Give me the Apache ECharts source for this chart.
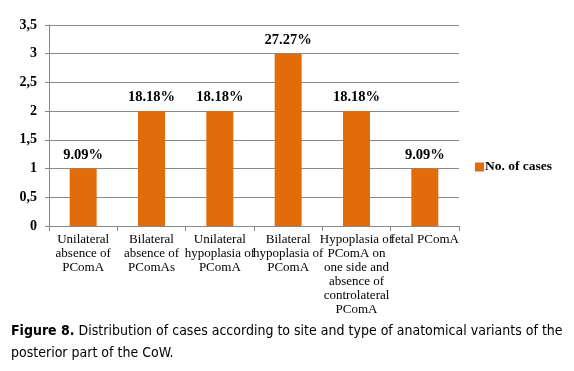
<!DOCTYPE html>
<html>
<head>
<meta charset="utf-8">
<script src="https://cdn.jsdelivr.net/npm/echarts@6/dist/echarts.min.js"></script>
<style>html,body{margin:0;padding:0;background:#fff;}#c{width:574px;height:371px;}</style>
</head>
<body>
<div id="c"></div>
<script>
var categories = [
  "Unilateral\nabsence of\nPComA",
  "Bilateral\nabsence of\nPComAs",
  "Unilateral\nhypoplasia of\nPComA",
  "Bilateral\nhypoplasia of\nPComA",
  "Hypoplasia of\nPComA on\none side and\nabsence of\ncontrolateral\nPComA",
  "fetal PComA"
];
var cases = [1, 2, 2, 3, 2, 1];
var percentLabels = ["9.09%", "18.18%", "18.18%", "27.27%", "18.18%", "9.09%"];
var yTicks = [0, 0.5, 1, 1.5, 2, 2.5, 3, 3.5];
var seriesName = "No. of cases";

var chart = echarts.init(document.getElementById('c'));
chart.setOption({
  animation: false,
  backgroundColor: '#fff',
  grid: { left: 49, top: 25, right: 115, bottom: 145, containLabel: false },
  legend: {
    data: [seriesName],
    orient: 'vertical',
    left: 470, top: 155,
    itemWidth: 9, itemHeight: 9, itemGap: 2,
    icon: 'rect',
    textStyle: { fontFamily: 'Liberation Serif', fontWeight: 'bold', fontSize: 13.5, color: '#000', padding: [0,0,0,-4] }
  },
  xAxis: {
    type: 'category',
    data: categories,
    axisLine: { lineStyle: { color: '#888', width: 1 } },
    axisTick: { show: true, alignWithLabel: false, length: 5, lineStyle: { color: '#888' } },
    axisLabel: {
      interval: 0, margin: 7,
      fontFamily: 'Liberation Serif', fontSize: 13, lineHeight: 14, color: '#000',
      formatter: function (v) { return v; }
    }
  },
  yAxis: {
    type: 'value', min: 0, max: 3.5, interval: 0.5,
    axisLine: { show: true, lineStyle: { color: '#888' } },
    axisTick: { show: true, length: 4, lineStyle: { color: '#888' } },
    splitLine: { lineStyle: { color: '#8a8a8a', width: 1 } },
    axisLabel: {
      margin: 12,
      fontFamily: 'Liberation Serif', fontWeight: 'bold', fontSize: 14, color: '#000',
      formatter: function (v) { return String(v).replace('.', ','); }
    }
  },
  series: [{
    name: seriesName,
    type: 'bar',
    data: cases,
    barWidth: 27,
    itemStyle: { color: '#E36C0A' },
    label: {
      show: true, position: 'top', distance: 6,
      fontFamily: 'Liberation Serif', fontWeight: 'bold', fontSize: 14.5, color: '#000',
      formatter: function (p) { return percentLabels[p.dataIndex]; }
    }
  }],
  graphic: [{
    type: 'text', left: 11, top: 320,
    style: {
      text: '{b|Figure 8.} Distribution of cases according to site and type of anatomical variants of the\nposterior part of the CoW.',
      rich: {
        b: { fontFamily: 'DejaVu Sans Condensed', fontWeight: 'bold', fontSize: 14, fill: '#000' }
      },
      fontFamily: 'DejaVu Sans Condensed', fontSize: 14, lineHeight: 22, fill: '#000'
    }
  }]
});
</script>
</body>
</html>
